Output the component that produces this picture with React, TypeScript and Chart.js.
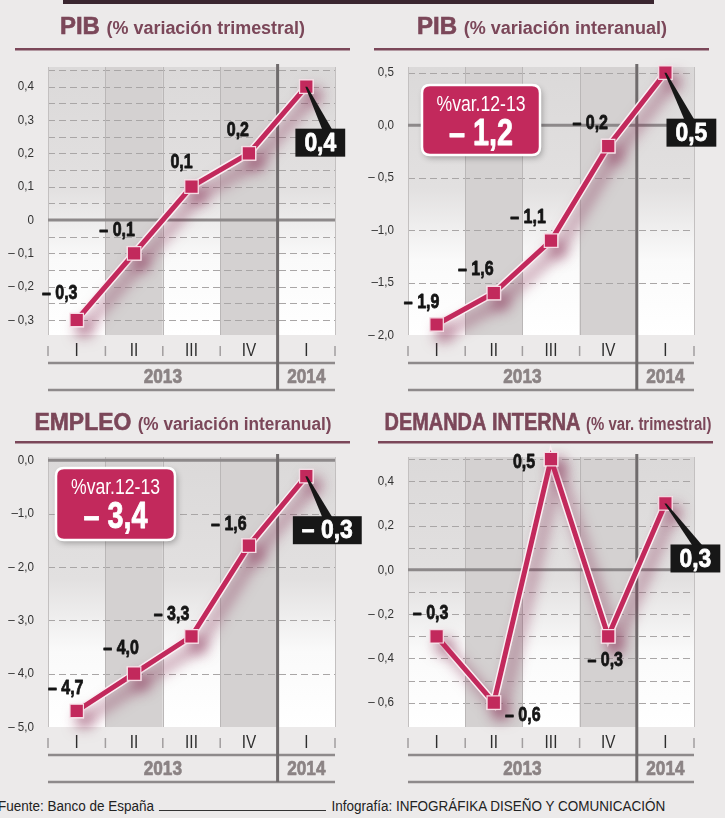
import React, { useEffect, useRef } from 'react';
import { Chart, registerables } from 'chart.js';
Chart.register(...registerables);

// ---------------- data ----------------
const quarterLabels = ['I', 'II', 'III', 'IV', 'I'];
const yearLabels = ['2013', '2014'];
const avgCaption = '%var.12-13';

const pibTrimTitle = ['PIB', '(% variación trimestral)'];
const pibTrimValues = [-0.3, -0.1, 0.1, 0.2, 0.4];
const pibTrimValueLabels = ['– 0,3', '– 0,1', '0,1', '0,2', '0,4'];
const pibTrimTicks = [-0.3, -0.2, -0.1, 0, 0.1, 0.2, 0.3, 0.4];
const pibTrimTickLabels = ['– 0,3', '– 0,2', '– 0,1', '0', '0,1', '0,2', '0,3', '0,4'];

const pibInterTitle = ['PIB', '(% variación interanual)'];
const pibInterValues = [-1.9, -1.6, -1.1, -0.2, 0.5];
const pibInterValueLabels = ['– 1,9', '– 1,6', '– 1,1', '– 0,2', '0,5'];
const pibInterTicks = [-2, -1.5, -1, -0.5, 0, 0.5];
const pibInterTickLabels = ['– 2,0', '–1,5', '–1,0', '– 0,5', '0,0', '0,5'];
const pibInterAverage = '– 1,2';

const empleoTitle = ['EMPLEO', '(% variación interanual)'];
const empleoValues = [-4.7, -4.0, -3.3, -1.6, -0.3];
const empleoValueLabels = ['– 4,7', '– 4,0', '– 3,3', '– 1,6', '– 0,3'];
const empleoTicks = [-5, -4, -3, -2, -1, 0];
const empleoTickLabels = ['– 5,0', '– 4,0', '– 3,0', '– 2,0', '–1,0', '0,0'];
const empleoAverage = '– 3,4';

const demandaTitle = ['DEMANDA INTERNA', '(% var. trimestral)'];
const demandaValues = [-0.3, -0.6, 0.5, -0.3, 0.3];
const demandaValueLabels = ['– 0,3', '– 0,6', '0,5', '– 0,3', '0,3'];
const demandaTicks = [-0.6, -0.4, -0.2, 0, 0.2, 0.4];
const demandaTickLabels = ['– 0,6', '– 0,4', '– 0,2', '0,0', '0,2', '0,4'];

const sourceText = 'Fuente: Banco de España';
const creditText = 'Infografía: INFOGRÁFIKA DISEÑO Y COMUNICACIÓN';

// ---------------- styles ----------------
const TF = '"Liberation Sans", Arial, Helvetica, sans-serif';
const CRIMSON = '#c2295c';
const TITLE = '#7b4759';
const BG = '#eceaea';
const SX = 0.8;

type Panel = {
  key: string;
  left: number; top: number; width: number; height: number;
  title: string[]; titleCx: number; titleBase: number; titleW: number; ruleY: number; ruleX: number[];
  values: number[]; valueLabels: string[]; ticks: number[]; tickLabels: string[];
  gridStep: number; min: number; max: number;
  area: { l: number; r: number; t: number; b: number };
  labelOffsets: number[][];
  lastBox: { dx: number; dy: number; lead: number };
  avgBox?: { x: number; y: number; w: number; h: number };
  average?: string;
};

const panels: Panel[] = [
  {
    key: 'pibTrim', left: 0, top: 0, width: 362, height: 395,
    title: pibTrimTitle, titleCx: 182.5, titleBase: 34, titleW: 245, ruleY: 49, ruleX: [15, 350],
    values: pibTrimValues, valueLabels: pibTrimValueLabels, ticks: pibTrimTicks, tickLabels: pibTrimTickLabels,
    gridStep: 0.05, min: -0.345, max: 0.459,
    area: { l: 48, r: 335, t: 67, b: 335 },
    labelOffsets: [[-17, -27], [-17, -23], [-10, -24], [-11, -23]],
    lastBox: { dx: 14, dy: 56, lead: 7 },
  },
  {
    key: 'pibInter', left: 362, top: 0, width: 363, height: 395,
    title: pibInterTitle, titleCx: 180, titleBase: 34, titleW: 250, ruleY: 49, ruleX: [12, 347],
    values: pibInterValues, valueLabels: pibInterValueLabels, ticks: pibInterTicks, tickLabels: pibInterTickLabels,
    gridStep: 0.5, min: -2.0, max: 0.554,
    area: { l: 46, r: 332, t: 67, b: 335 },
    labelOffsets: [[-15, -22], [-18, -24], [-23, -23], [-18, -23]],
    lastBox: { dx: 26, dy: 60, lead: -2 },
    avgBox: { x: 60, y: 85, w: 118, h: 70 },
    average: pibInterAverage,
  },
  {
    key: 'empleo', left: 0, top: 400, width: 362, height: 390,
    title: empleoTitle, titleCx: 183, titleBase: 30, titleW: 297, ruleY: 42, ruleX: [15, 350],
    values: empleoValues, valueLabels: empleoValueLabels, ticks: empleoTicks, tickLabels: empleoTickLabels,
    gridStep: 1, min: -5.0, max: 0.06,
    area: { l: 48, r: 335, t: 57, b: 327 },
    labelOffsets: [[-11, -23], [-13, -25], [-20, -22], [-20, -21]],
    lastBox: { dx: 21, dy: 54, lead: 0 },
    avgBox: { x: 56, y: 68, w: 119, h: 72 },
    average: empleoAverage,
  },
  {
    key: 'demanda', left: 362, top: 400, width: 363, height: 390,
    title: demandaTitle, titleCx: 186, titleBase: 30, titleW: 327, ruleY: 42, ruleX: [16, 351],
    values: demandaValues, valueLabels: demandaValueLabels, ticks: demandaTicks, tickLabels: demandaTickLabels,
    gridStep: 0.1, min: -0.71, max: 0.51,
    area: { l: 46, r: 332, t: 57, b: 327 },
    labelOffsets: [[-6, -23], [29, 13], [-27, 3], [-3, 24]],
    lastBox: { dx: 30, dy: 55, lead: 2 },
  },
];

function buildGrid(min: number, max: number, step: number) {
  const out: number[] = [];
  const k0 = Math.ceil(min / step - 1e-6);
  const k1 = Math.floor(max / step + 1e-6);
  for (let k = k0; k <= k1; k++) out.push(Math.round(k * step * 1e6) / 1e6);
  return out;
}

function roundRect(ctx: CanvasRenderingContext2D, x: number, y: number, w: number, h: number, r: number) {
  ctx.beginPath();
  ctx.moveTo(x + r, y);
  ctx.lineTo(x + w - r, y);
  ctx.quadraticCurveTo(x + w, y, x + w, y + r);
  ctx.lineTo(x + w, y + h - r);
  ctx.quadraticCurveTo(x + w, y + h, x + w - r, y + h);
  ctx.lineTo(x + r, y + h);
  ctx.quadraticCurveTo(x, y + h, x, y + h - r);
  ctx.lineTo(x, y + r);
  ctx.quadraticCurveTo(x, y, x + r, y);
  ctx.closePath();
}

// condensed text helper
function txt(
  ctx: CanvasRenderingContext2D, s: string, x: number, y: number, font: string,
  color: string, align: CanvasTextAlign = 'center', sx = SX, heavy = 0,
) {
  ctx.save();
  ctx.font = font;
  ctx.fillStyle = color;
  ctx.textAlign = align;
  ctx.textBaseline = 'middle';
  ctx.translate(x, y);
  ctx.scale(sx, 1);
  ctx.fillText(s, 0, 0);
  if (heavy > 0) {
    ctx.strokeStyle = color;
    ctx.lineWidth = heavy;
    ctx.lineJoin = 'round';
    ctx.strokeText(s, 0, 0);
  }
  ctx.restore();
}
function txtW(ctx: CanvasRenderingContext2D, s: string, font: string, sx = SX) {
  ctx.save();
  ctx.font = font;
  const w = ctx.measureText(s).width * sx;
  ctx.restore();
  return w;
}

function makePlugin(p: Panel) {
  return {
    id: 'deco_' + p.key,
    beforeDraw(chart: any) {
      const ctx: CanvasRenderingContext2D = chart.ctx;
      const a = chart.chartArea;
      const x = chart.scales.x;
      const y = chart.scales.y;
      ctx.save();

      // title
      const f1 = `bold 24px ${TF}`;
      const f2 = `bold 18px ${TF}`;
      ctx.font = f1;
      const w1 = ctx.measureText(p.title[0] + ' ').width;
      ctx.font = f2;
      const w2 = ctx.measureText(p.title[1]).width;
      const s = p.titleW / (w1 + w2);
      ctx.save();
      ctx.translate(p.titleCx - p.titleW / 2, p.titleBase);
      ctx.scale(s, 1);
      ctx.fillStyle = TITLE;
      ctx.strokeStyle = TITLE;
      ctx.lineWidth = 0.6;
      ctx.textAlign = 'left';
      ctx.textBaseline = 'alphabetic';
      ctx.font = f1;
      ctx.fillText(p.title[0], 0, 0);
      ctx.strokeText(p.title[0], 0, 0);
      ctx.font = f2;
      ctx.fillText(p.title[1], w1, 0);
      ctx.restore();
      ctx.fillStyle = TITLE;
      ctx.fillRect(p.ruleX[0], p.ruleY - 1, p.ruleX[1] - p.ruleX[0], 2.5);

      // columns
      const centers = p.values.map((_, i) => x.getPixelForValue(i));
      const bounds = [a.left];
      for (let i = 0; i < centers.length - 1; i++) bounds.push((centers[i] + centers[i + 1]) / 2);
      bounds.push(a.right);
      for (let i = 0; i < centers.length; i++) {
        if (i % 2 === 1) {
          ctx.fillStyle = '#d4d1d1';
        } else {
          const g = ctx.createLinearGradient(0, a.top, 0, a.bottom);
          g.addColorStop(0, '#dbd9d9');
          g.addColorStop(0.45, '#e2e0e0');
          g.addColorStop(0.72, '#fafafa');
          g.addColorStop(1, '#ffffff');
          ctx.fillStyle = g;
        }
        ctx.fillRect(bounds[i], a.top, bounds[i + 1] - bounds[i], a.bottom - a.top);
      }

      // dashed grid
      ctx.strokeStyle = '#a9a6a6';
      ctx.lineWidth = 1;
      ctx.setLineDash([7, 4]);
      for (const v of buildGrid(p.min, p.max, p.gridStep)) {
        const py = Math.round(y.getPixelForValue(v)) + 0.5;
        if (Math.abs(py - a.bottom) < 2 || Math.abs(py - a.top) < 2 || Math.abs(v) < 1e-9) continue;
        ctx.beginPath();
        ctx.moveTo(a.left, py);
        ctx.lineTo(a.right, py);
        ctx.stroke();
      }
      ctx.setLineDash([]);

      // vertical lines
      for (let i = 0; i < bounds.length; i++) {
        if (i === 4) continue;
        ctx.strokeStyle = i === 0 || i === 5 ? '#c3c0c0' : '#bab7b7';
        ctx.lineWidth = 1;
        const bx = Math.round(bounds[i]) + 0.5;
        ctx.beginPath();
        ctx.moveTo(bx, a.top);
        ctx.lineTo(bx, a.bottom);
        ctx.stroke();
      }

      // zero line
      const zy = y.getPixelForValue(0);
      ctx.strokeStyle = '#8d898a';
      ctx.lineWidth = 3;
      ctx.beginPath();
      ctx.moveTo(a.left, zy);
      ctx.lineTo(a.right, zy);
      ctx.stroke();

      // y tick labels (positioned by the chart's y scale)
      p.ticks.forEach((t, i) => {
        txt(ctx, p.tickLabels[i], a.left - 14, y.getPixelForValue(t), `13.5px ${TF}`, '#333333', 'right', 0.86);
      });

      // tick marks below
      ctx.strokeStyle = '#a29e9f';
      ctx.lineWidth = 1.5;
      for (const bxx of bounds) {
        ctx.beginPath();
        ctx.moveTo(bxx, a.bottom + 11);
        ctx.lineTo(bxx, a.bottom + 21);
        ctx.stroke();
      }
      // quarter labels
      quarterLabels.forEach((q, i) => txt(ctx, q, centers[i], a.bottom + 16, `18px ${TF}`, '#2e2e2e', 'center', 0.85));

      // rows below
      ctx.strokeStyle = '#8e8a8b';
      ctx.lineWidth = 2.5;
      for (const dy of [28, 55]) {
        ctx.beginPath();
        ctx.moveTo(a.left, a.bottom + dy);
        ctx.lineTo(a.right, a.bottom + dy);
        ctx.stroke();
      }
      const sepX = bounds[4];
      txt(ctx, yearLabels[0], (a.left + sepX) / 2, a.bottom + 42, `bold 21px ${TF}`, '#8b8384', 'center', 0.82, 0.7);
      txt(ctx, yearLabels[1], (sepX + a.right) / 2, a.bottom + 42, `bold 21px ${TF}`, '#8b8384', 'center', 0.82, 0.7);

      // year separator
      ctx.strokeStyle = '#6f6b6c';
      ctx.lineWidth = 3;
      ctx.beginPath();
      ctx.moveTo(sepX, a.top - 3);
      ctx.lineTo(sepX, a.bottom + 55);
      ctx.stroke();

      ctx.restore();
    },
    beforeDatasetDraw(chart: any, args: any) {
      if (args.index === 1) {
        const ctx = chart.ctx;
        ctx.save();
        ctx.shadowColor = 'rgba(130, 35, 75, 0.55)';
        ctx.shadowBlur = 14;
        ctx.shadowOffsetX = 7;
        ctx.shadowOffsetY = 9;
      }
    },
    afterDatasetDraw(chart: any, args: any) {
      if (args.index === 1) chart.ctx.restore();
    },
    afterDatasetsDraw(chart: any) {
      const ctx: CanvasRenderingContext2D = chart.ctx;
      const meta = chart.getDatasetMeta(0);
      const n = p.values.length;
      ctx.save();
      // value labels
      const lf = `bold 20px ${TF}`;
      for (let i = 0; i < n - 1; i++) {
        const pt = meta.data[i];
        const off = p.labelOffsets[i];
        txt(ctx, p.valueLabels[i], pt.x + off[0], pt.y + off[1], lf, '#151515', 'center', SX, 0.8);
      }
      // last value box with leader
      const last = meta.data[n - 1];
      const bf = `bold 26px ${TF}`;
      const bsx = 0.88;
      const tw = txtW(ctx, p.valueLabels[n - 1], bf, bsx);
      const bw = tw + 18;
      const bh = 28;
      const cx = last.x + p.lastBox.dx;
      const cy = last.y + p.lastBox.dy;
      const ex = cx + p.lastBox.lead;
      const by = cy - bh / 2;
      ctx.fillStyle = '#171717';
      ctx.beginPath();
      ctx.moveTo(last.x - 1, last.y);
      ctx.lineTo(last.x + 1, last.y);
      ctx.lineTo(ex + 5, by + 1);
      ctx.lineTo(ex - 5, by + 1);
      ctx.closePath();
      ctx.fill();
      ctx.fillRect(cx - bw / 2, by, bw, bh);
      txt(ctx, p.valueLabels[n - 1], cx, cy + 1, bf, '#ffffff', 'center', bsx, 0.8);

      // average box
      if (p.avgBox && p.average) {
        const b = p.avgBox;
        ctx.save();
        ctx.shadowColor = 'rgba(0,0,0,0.3)';
        ctx.shadowBlur = 6;
        ctx.shadowOffsetX = 2;
        ctx.shadowOffsetY = 3;
        roundRect(ctx, b.x, b.y, b.w, b.h, 8);
        ctx.fillStyle = CRIMSON;
        ctx.fill();
        ctx.restore();
        roundRect(ctx, b.x, b.y, b.w, b.h, 8);
        ctx.strokeStyle = '#ffffff';
        ctx.lineWidth = 2.5;
        ctx.stroke();
        txt(ctx, avgCaption, b.x + b.w / 2, b.y + 20, `22px ${TF}`, '#ffffff', 'center', 0.8);
        txt(ctx, p.average, b.x + b.w / 2, b.y + 50, `bold 36px ${TF}`, '#ffffff', 'center', 0.8, 0.8);
      }
      ctx.restore();
    },
  };
}

function PanelChart({ p }: { p: Panel }) {
  const ref = useRef<HTMLCanvasElement | null>(null);
  useEffect(() => {
    if (!ref.current) return;
    const tickVals = buildGrid(p.min - 1e-9, p.max, p.gridStep);
    const chart = new Chart(ref.current, {
      type: 'line',
      data: {
        labels: quarterLabels,
        datasets: [
          {
            data: p.values,
            borderColor: CRIMSON,
            borderWidth: 5,
            pointStyle: 'rect',
            pointRadius: 9.5,
            pointBackgroundColor: CRIMSON,
            pointBorderColor: '#f5dbe4',
            pointBorderWidth: 1.2,
            tension: 0,
            clip: false,
          } as any,
          {
            data: p.values,
            borderColor: '#fbeff3',
            borderWidth: 8,
            pointStyle: 'rect',
            pointRadius: 10.5,
            pointBackgroundColor: '#fbeff3',
            pointBorderWidth: 0,
            tension: 0,
            clip: false,
          } as any,
        ],
      },
      options: {
        responsive: false,
        animation: false,
        events: [],
        layout: {
          padding: { left: 0, top: p.area.t, right: p.width - p.area.r, bottom: p.height - p.area.b },
        },
        plugins: { legend: { display: false }, tooltip: { enabled: false } },
        scales: {
          x: { type: 'category', display: false, offset: true },
          y: {
            type: 'linear',
            min: p.min,
            max: p.max,
            afterBuildTicks: (s: any) => {
              s.ticks = tickVals.map((v) => ({ value: v }));
            },
            afterFit: (s: any) => {
              s.width = p.area.l;
            },
            grid: { display: false },
            border: { display: false },
            ticks: { display: false },
          },
        },
      } as any,
      plugins: [makePlugin(p) as any],
    });
    return () => chart.destroy();
  }, [p]);
  return (
    <canvas
      ref={ref}
      width={p.width}
      height={p.height}
      style={{ position: 'absolute', left: p.left, top: p.top, width: p.width, height: p.height }}
    />
  );
}

export default function App() {
  return (
    <div
      style={{
        position: 'absolute',
        left: 0,
        top: 0,
        width: 725,
        height: 818,
        background: BG,
        overflow: 'hidden',
      }}
    >
      <div style={{ position: 'absolute', left: 63, top: 0, width: 591, height: 4, background: '#3a2630' }} />
      {panels.map((p) => (
        <PanelChart key={p.key} p={p} />
      ))}
      <div
        style={{
          position: 'absolute',
          left: -2,
          top: 797,
          fontFamily: TF,
          fontSize: 15.5,
          lineHeight: '18px',
          color: '#222',
          whiteSpace: 'nowrap',
          display: 'flex',
          alignItems: 'baseline',
          transform: 'scaleX(0.87)',
          transformOrigin: '0 0',
        }}
      >
        <span>{sourceText}</span>
        <span
          style={{
            display: 'inline-block',
            width: 192,
            height: 12,
            borderBottom: '1px solid #333',
            margin: '0 6px',
          }}
        />
        <span>{creditText}</span>
      </div>
    </div>
  );
}
